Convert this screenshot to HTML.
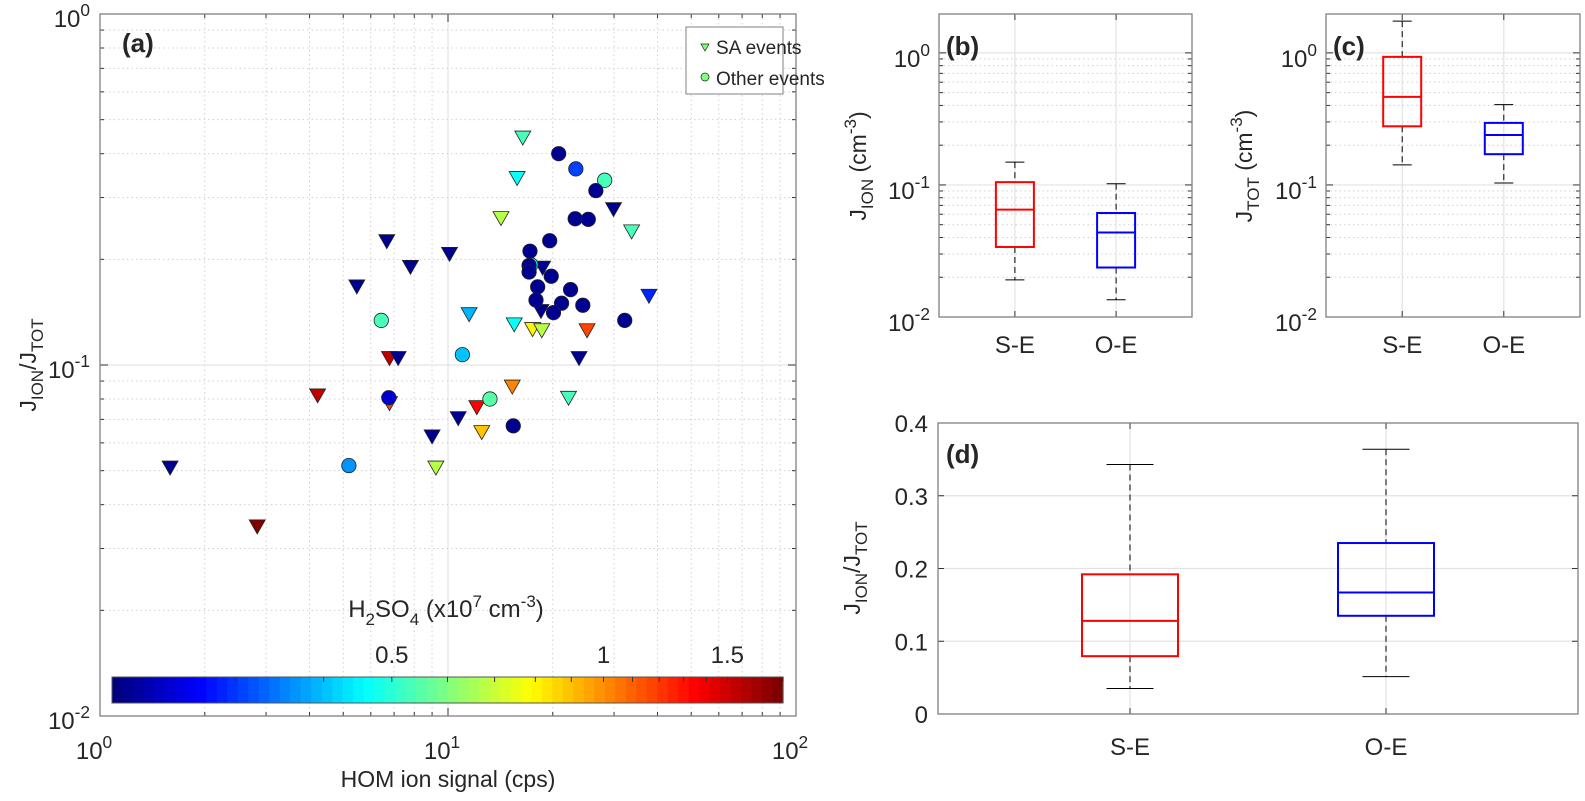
<!DOCTYPE html>
<html><head><meta charset="utf-8">
<style>
html,body{margin:0;padding:0;background:#fff;}
svg{display:block;font-family:"Liberation Sans",Arial,sans-serif;}
text{fill:#262626;}
</style></head>
<body>
<svg id="fig" width="1585" height="801" viewBox="0 0 1585 801" xmlns="http://www.w3.org/2000/svg">
<g id="pa"></g>
<g id="pb"></g>
<g id="pc"></g>
<g id="pd"></g>
</svg>
<script>
// ---- Panel (a) data ----
const saX = [16.4,15.8,14.2,29.9,33.7,6.67,10.1,7.80,18.7,5.47,37.8,18.5,11.5,15.5,17.5,18.6,25.1,6.79,7.19,23.8,15.3,4.22,22.2,6.79,12.1,10.7,12.5,9.00,9.23,1.59,2.83];
const saY = [0.446,0.342,0.263,0.279,0.241,0.226,0.208,0.191,0.190,0.168,0.158,0.143,0.140,0.131,0.127,0.126,0.126,0.105,0.105,0.105,0.0871,0.0822,0.0809,0.0781,0.0761,0.0708,0.0646,0.0628,0.0512,0.0512,0.0348];
const saC = [0.54,0.46,0.67,0.21,0.54,0.21,0.21,0.21,0.21,0.21,0.29,0.21,0.39,0.46,0.80,0.67,1.16,1.55,0.21,0.21,1.02,1.55,0.54,1.16,1.36,0.21,0.89,0.21,0.67,0.21,1.75];
const oeX = [17.3,20.8,23.3,28.2,26.6,23.2,25.3,19.6,17.2,17.1,17.1,19.8,18.1,22.5,17.9,21.2,24.4,20.1,32.2,6.43,11.0,6.76,13.2,15.4,5.19];
const oeY = [0.193,0.400,0.362,0.336,0.314,0.261,0.260,0.226,0.211,0.192,0.184,0.179,0.167,0.164,0.153,0.150,0.148,0.141,0.134,0.134,0.107,0.0807,0.0800,0.0671,0.0517];
const oeC = [0.46,0.21,0.31,0.54,0.21,0.21,0.21,0.21,0.21,0.21,0.21,0.21,0.21,0.21,0.21,0.21,0.21,0.21,0.21,0.54,0.41,0.24,0.56,0.21,0.37];
const xTickLabels = ["0","1","2"];
const yTickLabels = ["0","-1","-2"];
const cbTicks = [0.5,1,1.5];
// ---- Box plot data: [low whisker, Q1, median, Q3, high whisker] ----
const boxCats = ["S-E","O-E"];
const jionSE = [0.0191,0.0339,0.065,0.105,0.149];
const jionOE = [0.0135,0.0237,0.0436,0.0613,0.102];
const jtotSE = [0.142,0.278,0.464,0.933,1.74];
const jtotOE = [0.1035,0.171,0.239,0.295,0.406];
const ratioSE = [0.035,0.0795,0.128,0.192,0.343];
const ratioOE = [0.0514,0.135,0.167,0.235,0.364];
const ratioTicks = [0,0.1,0.2,0.3,0.4];

const NS="http://www.w3.org/2000/svg";
function mk(parent,tag,attrs,txt){const e=document.createElementNS(NS,tag);for(const k in attrs)e.setAttribute(k,attrs[k]);if(txt!==undefined)e.textContent=txt;parent.appendChild(e);return e;}
function jet(f){f=Math.max(0,Math.min(1,f));f=Math.floor(f*63.999)/63;const c=v=>Math.round(255*Math.max(0,Math.min(1,v)));
 return `rgb(${c(1.5-Math.abs(4*f-3))},${c(1.5-Math.abs(4*f-2))},${c(1.5-Math.abs(4*f-1))})`;}
function supText(g,x,y,base,sup,anchor,size,name){
 const t=mk(g,'text',{x:x,y:y,'font-size':size,'text-anchor':anchor});
 
 
 mk(t,'tspan',{},base);mk(t,'tspan',{dy:-11,'font-size':size*0.72},sup);return t;}

// ===== Panel (a) =====
(function(){
 const g=document.getElementById('pa');
 const L=100,R=796,T=14,B=716;
 const xs=v=>L+(Math.log10(v)-0)/2*(R-L);
 const ys=v=>B-(Math.log10(v)+2)/2*(B-T);
 const grid=mk(g,'g',{});
 
 
 for(let d=0;d<2;d++)for(let m=1;m<10;m++){const v=Math.pow(10,d)*m;const x=xs(v);
   if(m===1){if(d>0)mk(grid,'line',{x1:x,x2:x,y1:T,y2:B,stroke:'#e3e3e3','stroke-width':1.2});}
   else mk(grid,'line',{x1:x,x2:x,y1:T,y2:B,stroke:'#d0d0d0','stroke-width':1,'stroke-dasharray':'1.5,3'});
   mk(grid,'line',{x1:x,x2:x,y1:B,y2:B-(m===1?8:4),stroke:'#333'});mk(grid,'line',{x1:x,x2:x,y1:T,y2:T+(m===1?8:4),stroke:'#333'});}
 for(let d=-2;d<0;d++)for(let m=1;m<10;m++){const v=Math.pow(10,d)*m;const y=ys(v);
   if(m===1){if(d>-2)mk(grid,'line',{x1:L,x2:R,y1:y,y2:y,stroke:'#e3e3e3','stroke-width':1.2});}
   else mk(grid,'line',{x1:L,x2:R,y1:y,y2:y,stroke:'#d0d0d0','stroke-width':1,'stroke-dasharray':'1.5,3'});
   mk(grid,'line',{x1:L,x2:L+(m===1?8:4),y1:y,y2:y,stroke:'#333'});mk(grid,'line',{x1:R,x2:R-(m===1?8:4),y1:y,y2:y,stroke:'#333'});}
 xTickLabels.forEach((p,i)=>{supText(g,xs(Math.pow(10,+p))-6,759,'10',p,'middle',24,'x-tick-label');});
 yTickLabels.forEach((p,i)=>{supText(g,L-10,ys(Math.pow(10,+p))+13,'10',p,'end',24,'y-tick-label');});
 const mg=mk(g,'g',{});
 
 
 const cmin=0.2,cmax=1.8;const cf=v=>Math.log(v/cmin)/Math.log(cmax/cmin);
 saX.forEach((v,i)=>{const x=xs(v),y=ys(saY[i]);
   const p=mk(mg,'polygon',{points:`${x-8},${y-6} ${x+8},${y-6} ${x},${y+8}`,fill:jet(cf(saC[i])),stroke:'#222','stroke-width':0.8});
   
   });
 oeX.forEach((v,i)=>{const c=mk(mg,'circle',{cx:xs(v),cy:ys(oeY[i]),r:7.2,fill:jet(cf(oeC[i])),stroke:'#222','stroke-width':0.8});
   
   });
 const cb=mk(g,'g',{});
 
 
 const cL=112,cR=783,cT=677,cB=703;
 for(let k=0;k<64;k++){mk(cb,'rect',{x:cL+k*(cR-cL)/64,y:cT,width:(cR-cL)/64+0.6,height:cB-cT,fill:jet(k/63)});}
 mk(cb,'rect',{x:cL,y:cT,width:cR-cL,height:cB-cT,fill:'none',stroke:'#555','stroke-width':1});
 const cbx=v=>cL+cf(v)*(cR-cL);
 for(let v=0.3;v<1.81;v+=0.1){const x=cbx(v);mk(cb,'line',{x1:x,x2:x,y1:cT,y2:cT+5,stroke:'#333'});}
 cbTicks.forEach(v=>{const t=mk(cb,'text',{x:cbx(v),y:663,'font-size':24,'text-anchor':'middle'},String(v));
   
   });
 const ct=mk(cb,'text',{x:446,y:617,'font-size':24,'text-anchor':'middle'});
 
 
 mk(ct,'tspan',{},'H');mk(ct,'tspan',{dy:8,'font-size':17},'2');mk(ct,'tspan',{dy:-8},'SO');mk(ct,'tspan',{dy:8,'font-size':17},'4');
 mk(ct,'tspan',{dy:-8},' (x10');mk(ct,'tspan',{dy:-10,'font-size':17},'7');mk(ct,'tspan',{dy:10},' cm');mk(ct,'tspan',{dy:-10,'font-size':17},'-3');mk(ct,'tspan',{dy:10},')');
 mk(g,'rect',{x:L,y:T,width:R-L,height:B-T,fill:'none',stroke:'#808080','stroke-width':1.3});
 const lg=mk(g,'g',{});
 
 
 mk(lg,'rect',{x:686,y:27,width:97,height:67,fill:'#fff',stroke:'#808080','stroke-width':1});
 mk(lg,'polygon',{points:'701,44 709,44 705,51',fill:'#7fff7f',stroke:'#222','stroke-width':0.7});
 mk(lg,'circle',{cx:705,cy:77,r:4,fill:'#7fff7f',stroke:'#222','stroke-width':0.7});
 const l1=mk(lg,'text',{x:716,y:54,'font-size':19},'SA events');
 
 
 const l2=mk(lg,'text',{x:716,y:85,'font-size':19},'Other events');
 
 
 const pl=mk(g,'text',{x:122,y:52,'font-size':26,'font-weight':'bold'},'(a)');
 
 
 const xl=mk(g,'text',{x:448,y:787,'font-size':23,'text-anchor':'middle'},'HOM ion signal (cps)');
 
 
 const yl=mk(g,'text',{x:0,y:0,'font-size':23,'text-anchor':'middle',transform:'translate(36,365) rotate(-90)'});
 
 
 mk(yl,'tspan',{},'J');mk(yl,'tspan',{dy:7,'font-size':17},'ION');mk(yl,'tspan',{dy:-7},'/J');mk(yl,'tspan',{dy:7,'font-size':17},'TOT');
})();

// ===== Box plots =====
function boxPanel(gid,L,R,T,B,ymin,ymax,log,series,colors,ticksFn,label,labelPos,ytitle,ytitleX,catY,boxW,capW){
 const g=document.getElementById(gid);
 const tr=v=>log?Math.log10(v):v;
 const ys=v=>B-(tr(v)-tr(ymin))/(tr(ymax)-tr(ymin))*(B-T);
 const cx=i=>L+(R-L)*(i+0.75)/ (2.5) ;
 ticksFn(g,ys,L,R,T,B);
 boxCats.forEach((c,i)=>{const x=cx(i);
   mk(g,'line',{x1:x,x2:x,y1:T,y2:B,stroke:'#e3e3e3','stroke-width':1.2});
   mk(g,'line',{x1:x,x2:x,y1:B,y2:B-6,stroke:'#333'});mk(g,'line',{x1:x,x2:x,y1:T,y2:T+6,stroke:'#333'});
   const t=mk(g,'text',{x:x,y:catY,'font-size':24,'text-anchor':'middle'},c);
   
   });
 series.forEach((s,i)=>{const x=cx(i);
   const bg=mk(g,'g',{});
   
   
   mk(bg,'line',{x1:x,x2:x,y1:ys(s[4]),y2:ys(s[3]),stroke:'#000','stroke-width':1,'stroke-dasharray':'6,4'});
   mk(bg,'line',{x1:x,x2:x,y1:ys(s[1]),y2:ys(s[0]),stroke:'#000','stroke-width':1,'stroke-dasharray':'6,4'});
   mk(bg,'line',{x1:x-capW/2,x2:x+capW/2,y1:ys(s[4]),y2:ys(s[4]),stroke:'#000','stroke-width':1});
   mk(bg,'line',{x1:x-capW/2,x2:x+capW/2,y1:ys(s[0]),y2:ys(s[0]),stroke:'#000','stroke-width':1});
   mk(bg,'rect',{x:x-boxW/2,y:ys(s[3]),width:boxW,height:ys(s[1])-ys(s[3]),fill:'none',stroke:colors[i],'stroke-width':2});
   mk(bg,'line',{x1:x-boxW/2,x2:x+boxW/2,y1:ys(s[2]),y2:ys(s[2]),stroke:colors[i],'stroke-width':2});});
 mk(g,'rect',{x:L,y:T,width:R-L,height:B-T,fill:'none',stroke:'#808080','stroke-width':1.3});
 const pl=mk(g,'text',{x:labelPos[0],y:labelPos[1],'font-size':26,'font-weight':'bold'},label);
 
 
 const yl=mk(g,'text',{x:0,y:0,'font-size':23,'text-anchor':'middle',transform:`translate(${ytitleX},${ytitle.cy}) rotate(-90)`});
 
 
 ytitle.parts.forEach(p=>mk(yl,'tspan',p.a,p.t));
}
function logTicks(g,ys,L,R,T,B){
 for(let d=-2;d<=0;d++)for(let m=1;m<10;m++){const v=Math.pow(10,d)*m;const y=ys(v);if(y<T)continue;
   if(m===1){if(d>-2)mk(g,'line',{x1:L,x2:R,y1:y,y2:y,stroke:'#e3e3e3','stroke-width':1.2});}
   else mk(g,'line',{x1:L,x2:R,y1:y,y2:y,stroke:'#d0d0d0','stroke-width':1,'stroke-dasharray':'1.5,3'});
   mk(g,'line',{x1:L,x2:L+(m===1?7:4),y1:y,y2:y,stroke:'#333'});mk(g,'line',{x1:R,x2:R-(m===1?7:4),y1:y,y2:y,stroke:'#333'});}
 ["0","-1","-2"].forEach(p=>supText(g,L-9,ys(Math.pow(10,+p))+14,'10',p,'end',24,'y-tick-label'));
}
function linTicks(g,ys,L,R,T,B){
 ratioTicks.forEach(v=>{const y=ys(v);
   if(v>0&&v<0.4)mk(g,'line',{x1:L,x2:R,y1:y,y2:y,stroke:'#e3e3e3','stroke-width':1.2});
   mk(g,'line',{x1:L,x2:L+6,y1:y,y2:y,stroke:'#333'});mk(g,'line',{x1:R,x2:R-6,y1:y,y2:y,stroke:'#333'});
   const t=mk(g,'text',{x:L-10,y:y+9,'font-size':24,'text-anchor':'end'},String(v));
   
   });
}
const ttl=(sub)=>({cy:0,parts:[{a:{},t:'J'},{a:{dy:7,'font-size':17},t:sub},{a:{dy:-7},t:' (cm'},{a:{dy:-10,'font-size':17},t:'-3'},{a:{dy:10},t:')'}]});
let tb=ttl('ION');tb.cy=166;
boxPanel('pb',939,1192,14,317,0.01,1.97,true,[jionSE,jionOE],['#ff0000','#0000ff'],logTicks,'(b)',[946,55],tb,866,353,38,19);
let tc=ttl('TOT');tc.cy=166;
boxPanel('pc',1326,1580,14,317,0.01,1.97,true,[jtotSE,jtotOE],['#ff0000','#0000ff'],logTicks,'(c)',[1333,55],tc,1252,353,38,19);
const td={cy:568,parts:[{a:{},t:'J'},{a:{dy:7,'font-size':17},t:'ION'},{a:{dy:-7},t:'/J'},{a:{dy:7,'font-size':17},t:'TOT'}]};
boxPanel('pd',938,1578,423,714,0,0.4,false,[ratioSE,ratioOE],['#ff0000','#0000ff'],linTicks,'(d)',[946,463],td,860,755,96,47);
</script>
</body></html>
